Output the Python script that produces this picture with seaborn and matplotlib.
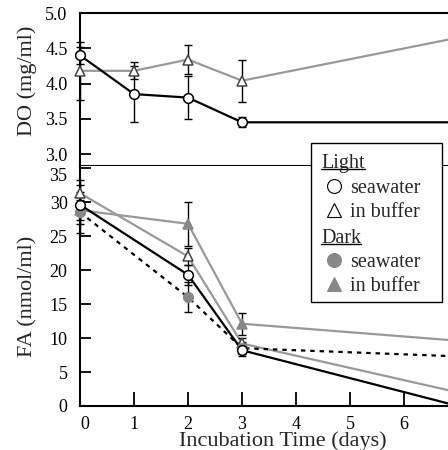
import matplotlib
matplotlib.use("Agg")
import matplotlib.pyplot as plt
from matplotlib.lines import Line2D
from matplotlib.patches import Rectangle
import pandas as pd
import seaborn as sns

sns.set_theme(style="ticks")
plt.rcParams["font.family"] = ["Liberation Serif", "DejaVu Serif"]

# DO (mg/ml), light only
do_days = [0, 1, 2, 3, 7]
do_light_sw = [4.40, 3.85, 3.80, 3.45, 3.45]
do_light_sw_err = [0.12, 0.40, 0.30, 0.07, 0.0]
do_light_buf = [4.18, 4.18, 4.34, 4.04, 4.65]
do_light_buf_err = [0.41, 0.12, 0.21, 0.30, 0.0]

# FA (nmol/ml)
fa_days = [0, 2, 3, 7]
fa_light_sw = [29.6, 19.3, 8.2, 0.0]
fa_light_sw_err = [2.9, 1.5, 0.8, 0.0]
fa_light_buf = [31.3, 22.0, 9.2, 2.0]
fa_light_buf_err = [1.9, 1.3, 0.8, 0.0]
fa_dark_sw = [28.5, 16.0, 8.5, 7.3]
fa_dark_sw_err = [3.0, 2.2, 0.9, 0.0]
fa_dark_buf = [28.8, 26.8, 12.1, 9.6]
fa_dark_buf_err = [1.5, 3.2, 1.6, 0.0]

GRAY = "#999999"
FILL = "#888888"

styles = {
    "light_sw": dict(color="black", marker="o", mfc="white", mec="black", ls="-"),
    "light_buf": dict(color=GRAY, marker="^", mfc="white", mec="#444444", ls="-"),
    "dark_sw": dict(color="black", marker="o", mfc=FILL, mec=FILL, ls=(0, (2, 2.2))),
    "dark_buf": dict(color=GRAY, marker="^", mfc=FILL, mec=FILL, ls="-"),
}


def draw(ax, days, vals, errs, key):
    st = styles[key]
    df = pd.DataFrame({"day": days, "val": vals})
    # error bars only where the points are shown (day 7 is off the crop)
    ax.errorbar(days[:-1], vals[:-1], yerr=errs[:-1], fmt="none",
                ecolor="black", elinewidth=1, capsize=3, capthick=1,
                zorder=3, clip_on=False)
    sns.lineplot(data=df, x="day", y="val", ax=ax, color=st["color"],
                 linestyle=st["ls"], linewidth=1.6, zorder=2, clip_on=False)
    ax.plot(days[:-1], vals[:-1], linestyle="none", marker=st["marker"],
            markersize=7, markerfacecolor=st["mfc"], markeredgecolor=st["mec"],
            markeredgewidth=1.1, zorder=4, clip_on=False)


fig = plt.figure(figsize=(4.48, 4.5), dpi=100)
W = 405 / 448
ax1 = fig.add_axes([80 / 448, 1 - 166 / 450, W, 153 / 450])
ax2 = fig.add_axes([80 / 448, 1 - 406 / 450, W, 240 / 450])

draw(ax1, do_days, do_light_buf, do_light_buf_err, "light_buf")
draw(ax1, do_days, do_light_sw, do_light_sw_err, "light_sw")

draw(ax2, fa_days, fa_dark_buf, fa_dark_buf_err, "dark_buf")
draw(ax2, fa_days, fa_light_buf, fa_light_buf_err, "light_buf")
draw(ax2, fa_days, fa_dark_sw, fa_dark_sw_err, "dark_sw")
draw(ax2, fa_days, fa_light_sw, fa_light_sw_err, "light_sw")

for ax in (ax1, ax2):
    ax.set_xlim(0, 7.5)
    ax.spines["right"].set_visible(False)
    for s in ax.spines.values():
        s.set_linewidth(1.5)
        s.set_color("black")
    ax.tick_params(axis="y", direction="in", length=8, width=1.3,
                   labelsize=13, pad=9, colors="black")
    ax.set_xlabel("")
    ax.set_ylabel("")

ax1.set_ylim(2.83, 5.0)
ax1.set_yticks([3.0, 3.5, 4.0, 4.5, 5.0])
ax1.set_yticklabels(["3.0", "3.5", "4.0", "4.5", "5.0"])
ax1.tick_params(axis="x", bottom=False, labelbottom=False)
ax1.set_ylabel("DO (mg/ml)", fontsize=16)

ax2.set_ylim(0, 35.3)
ax2.set_yticks(range(0, 36, 5))
ax2.get_yticklabels()[-1].set_verticalalignment("top")
ax2.spines["top"].set_visible(False)
ax2.set_xticks(range(0, 7))
ax2.tick_params(axis="x", direction="in", length=10, width=1.3,
                labelsize=13, pad=7, colors="black")
ax2.get_xticklabels()[0].set_horizontalalignment("left")
ax2.set_ylabel("FA (nmol/ml)", fontsize=16)
ax2.set_xlabel("Incubation Time (days)", fontsize=16, labelpad=0)
ax2.xaxis.set_label_coords(0.5, -0.105)

ax1.yaxis.set_label_coords(-0.105, 0.56)
ax2.yaxis.set_label_coords(-0.105, 0.458)

# legend box drawn by hand (headers are underlined and sit left of markers)
def px(x, y):
    return x / 448, 1 - y / 450

x0, y0 = px(311, 302)
x1, y1 = px(442, 143)
fig.patches.append(Rectangle((x0, y0), x1 - x0, y1 - y0, transform=fig.transFigure,
                             facecolor="white", edgecolor="black", lw=1, zorder=10))

entries = [
    ("Light", None, 161),
    ("seawater", "light_sw", 186),
    ("in buffer", "light_buf", 210),
    ("Dark", None, 236),
    ("seawater", "dark_sw", 260),
    ("in buffer", "dark_buf", 284),
]
for label, key, y in entries:
    if key is None:
        t = fig.text(*px(321, y), label, fontsize=14.5, ha="left", va="center_baseline",
                     zorder=11)
        fig.canvas.draw()
        bb = t.get_window_extent()
        fig.lines.append(Line2D([bb.x0 / 448, bb.x1 / 448],
                                [1 - (y + 8) / 450] * 2, transform=fig.transFigure,
                                color="black", lw=1, zorder=11))
    else:
        st = styles[key]
        fig.lines.append(Line2D([334 / 448], [1 - y / 450], transform=fig.transFigure,
                                marker=st["marker"], markersize=10, linestyle="none",
                                markerfacecolor=st["mfc"],
                                markeredgecolor="black" if st["mfc"] == "white" else FILL,
                                markeredgewidth=0.8, zorder=11))
        fig.text(*px(350, y), label, fontsize=14.5, ha="left", va="center_baseline",
                 zorder=11)

fig.savefig("out.png", dpi=100)
